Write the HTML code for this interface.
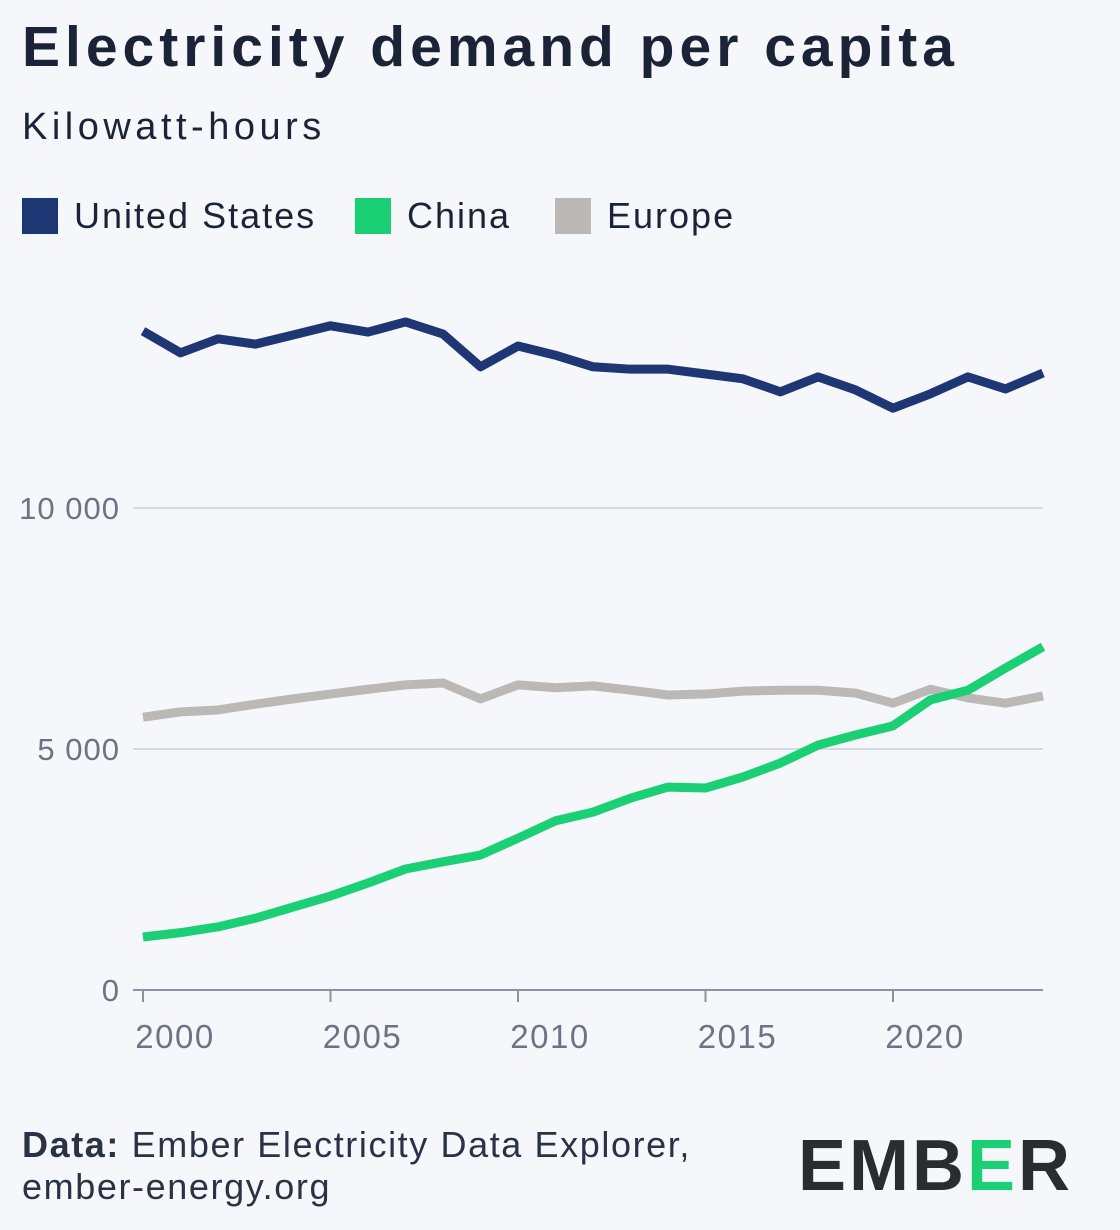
<!DOCTYPE html>
<html><head><meta charset="utf-8"><style>
body{margin:0;background:#f6f7fb;font-family:"Liberation Sans",sans-serif;}
#wrap{position:relative;width:1120px;height:1230px;overflow:hidden;background:#f6f7fb;}
.t{position:absolute;white-space:nowrap;}
</style></head><body>
<div id="wrap">
<div class="t" style="left:22px;top:14px;font-size:57px;font-weight:bold;color:#1b2337;letter-spacing:5px;">Electricity demand per capita</div>
<div class="t" style="left:22px;top:106px;font-size:38px;color:#1b2337;letter-spacing:4.5px;">Kilowatt-hours</div>
<div>
<div class="t" style="left:22px;top:195px;font-size:36px;color:#1b2337;letter-spacing:2px;"><span style="display:inline-block;width:36px;height:36px;background:#1e3673;vertical-align:-6px;margin-right:16px"></span>United States</div>
<div class="t" style="left:355px;top:195px;font-size:36px;color:#1b2337;letter-spacing:2px;"><span style="display:inline-block;width:36px;height:36px;background:#1bcf74;vertical-align:-6px;margin-right:16px"></span>China</div>
<div class="t" style="left:555px;top:195px;font-size:36px;color:#1b2337;letter-spacing:2px;"><span style="display:inline-block;width:36px;height:36px;background:#bcb8b5;vertical-align:-6px;margin-right:16px"></span>Europe</div>
</div>
<svg id="chart" width="1120" height="1230" style="position:absolute;left:0;top:0"></svg>
<div class="t" style="left:22px;top:1124px;font-size:36px;color:#2a3245;line-height:42px;letter-spacing:1.6px;"><b>Data:</b> Ember Electricity Data Explorer,<br>ember-energy.org</div>
<div class="t" style="left:798px;top:1125px;font-size:72px;font-weight:bold;color:#2a2d30;letter-spacing:3px;">EMB<span style="color:#1bcf74">E</span>R</div>
</div>
<script>
const years=[2000,2001,2002,2003,2004,2005,2006,2007,2008,2009,2010,2011,2012,2013,2014,2015,2016,2017,2018,2019,2020,2021,2022,2023,2024];
const usValues=[13670,13220,13510,13400,13590,13780,13650,13860,13610,12930,13360,13170,12930,12880,12880,12780,12680,12410,12720,12450,12070,12370,12720,12470,12800];
const chinaValues=[1100,1190,1310,1490,1720,1950,2220,2510,2660,2800,3150,3510,3690,3980,4210,4190,4420,4710,5080,5290,5480,6020,6220,6680,7120];
const europeValues=[5660,5770,5810,5930,6040,6140,6240,6330,6370,6040,6330,6270,6310,6220,6120,6140,6200,6220,6220,6160,5950,6240,6060,5950,6100];
const yTicks=[0,5000,10000];
const yTickLabels=["0","5 000","10 000"];
const xTicks=[2000,2005,2010,2015,2020];
const NS="http://www.w3.org/2000/svg";
const svg=document.getElementById('chart');
const x=v=>143+(v-2000)*(1043-143)/24;
const y=v=>990-v*(990-508)/10000;
function mk(t,a){const e=document.createElementNS(NS,t);for(const k in a)e.setAttribute(k,a[k]);svg.appendChild(e);return e;}
yTicks.forEach((v,i)=>{
 if(v>0){const g=mk('line',{x1:133,x2:1043,y1:y(v),y2:y(v),stroke:'#d5d9e6','stroke-width':2});
 
 }
 const t=mk('text',{x:120,y:y(v)+11,'text-anchor':'end','font-size':31,fill:'#6b7385','font-family':'Liberation Sans','letter-spacing':1});
 t.textContent=yTickLabels[i];
 
 
});
const ax=mk('line',{x1:133,x2:1043,y1:y(0),y2:y(0),stroke:'#8a92a3','stroke-width':2});


xTicks.forEach(v=>{
 const tk=mk('line',{x1:x(v),x2:x(v),y1:y(0),y2:y(0)+12,stroke:'#8a92a3','stroke-width':2});
 
 
 const t=mk('text',{x:x(v)+32,y:1048,'text-anchor':'middle','font-size':33,fill:'#6b7385','font-family':'Liberation Sans','letter-spacing':1.5});
 t.textContent=v;
 
 
});
function line(vals,color,name){
 const d=vals.map((v,i)=>(i?'L':'M')+x(years[i])+' '+y(v)).join(' ');
 const p=mk('path',{d:d,fill:'none',stroke:color,'stroke-width':9,'stroke-linejoin':'round'});
 
 
}
line(europeValues,'#bcb8b5','europe-line');
line(chinaValues,'#1bcf74','china-line');
line(usValues,'#1e3673','us-line');
</script>
</body></html>
